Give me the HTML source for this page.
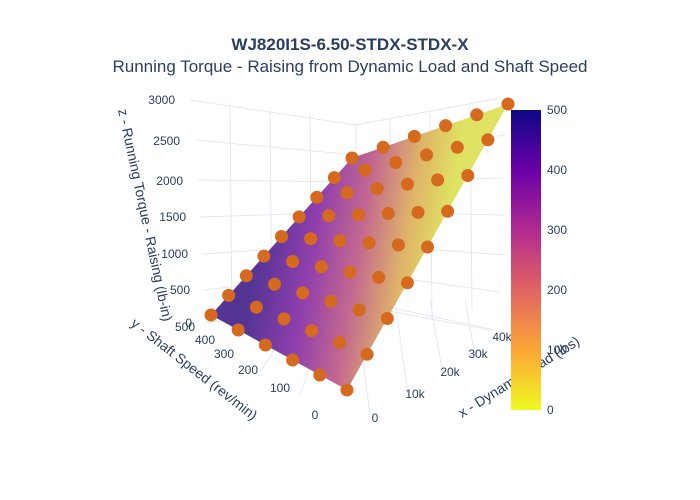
<!DOCTYPE html>
<html><head><meta charset="utf-8"><style>
body{margin:0;background:#fff;}
svg{display:block;font-family:"Liberation Sans","Open Sans",sans-serif;}
</style></head><body>
<svg width="700" height="500" viewBox="0 0 700 500">
<defs>
<linearGradient id="surf" gradientUnits="userSpaceOnUse" x1="260" y1="230" x2="440" y2="260">
<stop offset="0" stop-color="#4a2a8f"/>
<stop offset="0.3" stop-color="#8a35a8"/>
<stop offset="0.55" stop-color="#c0608a"/>
<stop offset="0.8" stop-color="#ddb060"/>
<stop offset="1" stop-color="#dde05a"/>
</linearGradient>
<linearGradient id="cb" x1="0" y1="0" x2="0" y2="1">
<stop offset="0" stop-color="#0d0887"/>
<stop offset="0.2" stop-color="#6a00a8"/>
<stop offset="0.4" stop-color="#b12a90"/>
<stop offset="0.6" stop-color="#e16462"/>
<stop offset="0.8" stop-color="#fca636"/>
<stop offset="1" stop-color="#f0f921"/>
</linearGradient>
</defs>
<text x="350" y="50" text-anchor="middle" font-size="17" font-weight="bold" fill="#2a3f5f">WJ820I1S-6.50-STDX-STDX-X</text>
<text x="350" y="72" text-anchor="middle" font-size="17" fill="#2a3f5f">Running Torque - Raising from Dynamic Load and Shaft Speed</text>
<g stroke="#e3e8f0" stroke-width="1" fill="none">
<path d="M190 100 L356 125 L500 98"/>
<path d="M195 140 L356 155 L505 135"/>
<path d="M198 180 L356 182 L505 178"/>
<path d="M200 217 L356 212 L505 215"/>
<path d="M202 254 L356 244 L505 255"/>
<path d="M204 290 L356 272 L500 292"/>
<path d="M205 323 L356 300 L495 330"/>
<path d="M356 123 L356 305"/>
<path d="M230 103 L232 330 M270 108 L272 335 M310 114 L312 340"/>
<path d="M390 118 L392 330 M430 112 L432 320 M470 106 L472 310"/>
<path d="M356 305 L370 415 M356 305 L490 330 M330 305 L300 395 M300 310 L260 372"/>
<path d="M395 300 L408 395 M430 300 L443 375 M465 300 L475 355"/>
</g>
<polygon points="211,315 352,158 508,104 347,390" fill="url(#surf)" opacity="0.95"/>
<g fill="#d5691e">
<circle cx="211" cy="315" r="6.5"/><circle cx="228.6" cy="295.4" r="6.5"/><circle cx="246.3" cy="275.8" r="6.5"/><circle cx="263.9" cy="256.1" r="6.5"/><circle cx="281.5" cy="236.5" r="6.5"/><circle cx="299.1" cy="216.9" r="6.5"/><circle cx="316.8" cy="197.3" r="6.5"/><circle cx="334.4" cy="177.6" r="6.5"/><circle cx="352" cy="158" r="6.5"/>
<circle cx="238.2" cy="330" r="6.5"/><circle cx="256.3" cy="307.2" r="6.5"/><circle cx="274.5" cy="284.3" r="6.5"/><circle cx="292.6" cy="261.5" r="6.5"/><circle cx="310.7" cy="238.6" r="6.5"/><circle cx="328.8" cy="215.8" r="6.5"/><circle cx="347" cy="192.9" r="6.5"/><circle cx="365.1" cy="170" r="6.5"/><circle cx="383.2" cy="147.2" r="6.5"/>
<circle cx="265.4" cy="345" r="6.5"/><circle cx="284" cy="318.9" r="6.5"/><circle cx="302.7" cy="292.9" r="6.5"/><circle cx="321.3" cy="266.8" r="6.5"/><circle cx="339.9" cy="240.7" r="6.5"/><circle cx="358.5" cy="214.6" r="6.5"/><circle cx="377.2" cy="188.5" r="6.5"/><circle cx="395.8" cy="162.5" r="6.5"/><circle cx="414.4" cy="136.4" r="6.5"/>
<circle cx="292.6" cy="360" r="6.5"/><circle cx="311.7" cy="330.7" r="6.5"/><circle cx="330.9" cy="301.4" r="6.5"/><circle cx="350" cy="272.1" r="6.5"/><circle cx="369.1" cy="242.8" r="6.5"/><circle cx="388.2" cy="213.5" r="6.5"/><circle cx="407.4" cy="184.2" r="6.5"/><circle cx="426.5" cy="154.9" r="6.5"/><circle cx="445.6" cy="125.6" r="6.5"/>
<circle cx="319.8" cy="375" r="6.5"/><circle cx="339.4" cy="342.5" r="6.5"/><circle cx="359.1" cy="309.9" r="6.5"/><circle cx="378.7" cy="277.4" r="6.5"/><circle cx="398.4" cy="244.9" r="6.5"/><circle cx="418" cy="212.4" r="6.5"/><circle cx="437.6" cy="179.9" r="6.5"/><circle cx="457.3" cy="147.3" r="6.5"/><circle cx="476.8" cy="114.8" r="6.5"/>
<circle cx="347" cy="390" r="6.5"/><circle cx="367.1" cy="354.3" r="6.5"/><circle cx="387.3" cy="318.5" r="6.5"/><circle cx="407.4" cy="282.8" r="6.5"/><circle cx="427.5" cy="247" r="6.5"/><circle cx="447.6" cy="211.3" r="6.5"/><circle cx="467.8" cy="175.5" r="6.5"/><circle cx="487.9" cy="139.8" r="6.5"/><circle cx="508" cy="104" r="6.5"/>
</g>
<g font-size="12" fill="#2a3f5f" text-anchor="end">
<text x="175" y="104">3000</text><text x="180" y="145">2500</text><text x="183" y="185">2000</text>
<text x="186" y="221">1500</text><text x="188" y="258">1000</text><text x="190" y="294">500</text><text x="192" y="327">0</text>
</g>
<g font-size="12" fill="#2a3f5f" text-anchor="middle">
<text x="185" y="331">500</text><text x="205" y="344">400</text><text x="224" y="358">300</text>
<text x="248" y="374">200</text><text x="280" y="392">100</text><text x="315" y="419">0</text>
<text x="375" y="422">0</text><text x="415" y="398">10k</text><text x="450" y="376">20k</text>
<text x="478" y="358">30k</text><text x="502" y="341">40k</text>
</g>
<text transform="translate(118,110) rotate(78)" font-size="14" fill="#2a3f5f">z - Running Torque - Raising (lb-in)</text>
<text transform="translate(130,325) rotate(38)" font-size="14" fill="#2a3f5f">y - Shaft Speed (rev/min)</text>
<text transform="translate(462,418) rotate(-32)" font-size="14" fill="#2a3f5f">x - Dynamic Load (lbs)</text>
<rect x="511" y="110" width="30" height="300" fill="url(#cb)"/>
<g font-size="12" fill="#2a3f5f">
<text x="547" y="114">500</text><text x="547" y="174">400</text><text x="547" y="234">300</text>
<text x="547" y="294">200</text><text x="547" y="354">100</text><text x="547" y="414">0</text>
</g>
</svg>
</body></html>
